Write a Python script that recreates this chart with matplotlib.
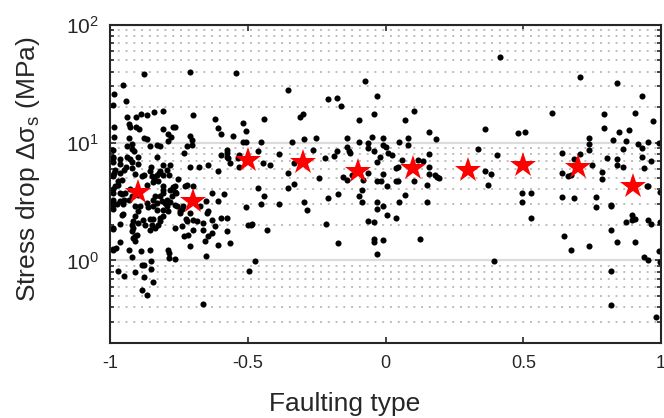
import matplotlib
matplotlib.use("Agg")
import matplotlib.pyplot as plt
from matplotlib.ticker import LogLocator, FixedLocator, FixedFormatter, NullFormatter

plt.rcParams['font.family'] = ['Liberation Sans', 'DejaVu Sans']
plt.rcParams['mathtext.default'] = 'regular'
plt.rcParams['axes.unicode_minus'] = False

# Individual events: faulting type (-1 normal ... 0 strike-slip ... 1 reverse) and stress drop (MPa)
fault_type = [
    -0.876, -0.710, -0.543, -0.953, -0.986, -0.99, -0.942, -0.940, -0.907, -0.886, -0.864, -0.840,
    -0.808, -0.698, -0.619, -0.608, -0.596, -0.552, -0.987, -0.931, -0.927, -0.905, -0.896, -0.808,
    -0.772, -0.764, -0.788, -0.780, -0.788, -0.987, -0.930, -0.876, -0.864, -0.710, -0.703,
    -0.719, -0.731, -0.828, -0.819, -0.919, -0.921, -0.912, -0.99, -0.99, -0.988, -0.964, -0.940,
    -0.927, -0.921, -0.964, -0.942, -0.919, -0.897, -0.951, -0.909, -0.852, -0.830, -0.808, -0.784,
    -0.821, -0.830, -0.840, -0.843, -0.786, -0.752, -0.99, -0.970, -0.957, -0.876, -0.864, -0.808,
    -0.764, -0.728, -0.719, -0.698, -0.710, -0.676, -0.643, -0.609, -0.598, -0.577, -0.577, -0.574,
    -0.573, -0.564, -0.531, -0.534, -0.531, -0.940, -0.855, -0.99, -0.982, -0.964, -0.927, -0.885,
    -0.897, -0.807, -0.794, -0.703,
    -0.819, -0.99, -0.982, -0.970, -0.964, -0.957, -0.946, -0.988, -0.976, -0.954, -0.951, -0.988,
    -0.954, -0.909, -0.897, -0.909, -0.861, -0.843, -0.830, -0.830, -0.819, -0.807, -0.807, -0.813,
    -0.800, -0.794, -0.807, -0.782, -0.776, -0.762, -0.782, -0.808, -0.819, -0.788, -0.764, -0.758,
    -0.746, -0.740, -0.734, -0.855, -0.843, -0.849, -0.855, -0.837, -0.879, -0.873, -0.897, -0.921,
    -0.915, -0.921, -0.909, -0.909, -0.903, -0.99, -0.988, -0.964, -0.964, -0.99, -0.988, -0.978,
    -0.930, -0.920, -0.886, -0.788, -0.786, -0.786, -0.764, -0.764, -0.740, -0.719, -0.698, -0.685,
    -0.716, -0.731, -0.710, -0.664, -0.662, -0.649, -0.643, -0.631, -0.655, -0.643, -0.631, -0.653,
    -0.675, -0.650, -0.631, -0.607, -0.586, -0.597, -0.577, -0.574, -0.564, -0.607, -0.619, -0.726,
    -0.746, -0.99, -0.986, -0.855, -0.849, -0.825, -0.988, -0.921, -0.931, -0.964, -0.99, -0.99,
    -0.794, -0.837, -0.843, -0.770, -0.764, -0.864, -0.897, -0.891, -0.957, -0.915, -0.819, -0.825,
    -0.915, -0.698, -0.710, -0.855,
    -0.970, -0.951, -0.909, -0.885, -0.876, -0.852, -0.852, -0.878, -0.843, -0.885, -0.864, -0.664,
    -0.353, -0.207, -0.175, -0.163, -0.310, -0.298, -0.441, -0.518, -0.508, -0.516, -0.506, -0.452,
    -0.340, -0.296, -0.252, -0.264, -0.141, -0.096, -0.095, -0.065, -0.062, -0.141, -0.131, -0.129,
    -0.175, -0.186, -0.220, -0.385, -0.464, -0.444, -0.419, -0.331, -0.353, -0.241, -0.331, -0.464,
    -0.153, -0.141, -0.123, -0.083, -0.353, -0.441, -0.452, -0.508, -0.385, -0.296, -0.284, -0.207,
    -0.173, -0.095, -0.084, -0.084, -0.062, -0.498, -0.489, -0.483, -0.429, -0.217, -0.173, -0.474,
    -0.496,
    0.416, -0.074, -0.030, -0.041, 0.103, 0.071, 0.159, 0.183, 0.361, 0.337, 0.404, -0.050,
    -0.008, 0.083, 0.083, 0.050, -0.041, -0.008, 0.002, 0.010, 0.025, -0.020, -0.030, 0.059,
    0.038, 0.046, 0.159, 0.159, 0.159, 0.137, 0.119, -0.008, -0.062, -0.030, -0.017, 0.004,
    0.038, 0.046, 0.103, 0.150, 0.180, 0.188, 0.194, 0.361, 0.383, 0.371, -0.030, -0.030,
    -0.008, 0.071, 0.049, 0.150, 0.004, -0.041, 0.037, -0.041, -0.041, -0.008, 0.126, -0.030,
    0.394,
    0.706, 0.839, 0.930, 0.605, 0.794, 0.906, 0.972, 0.794, 0.849, 0.884, 0.482, 0.506,
    0.739, 0.739, 0.739, 0.827, 0.873, 0.863, 0.918, 0.930, 0.952, 0.994, 0.640, 0.706,
    0.684, 0.805, 0.839, 0.839, 0.863, 0.930, 0.963, 0.939, 0.748, 0.640, 0.661, 0.672,
    0.785, 0.785, 0.948, 0.954, 0.494, 0.528, 0.494, 0.640, 0.684, 0.763, 0.763, 0.817,
    0.817, 0.995, 0.528, 0.873, 0.896, 0.896, 0.906, 0.952, 0.963, 0.996, 0.817, 0.649,
    0.672, 0.739, 0.839, 0.906, 0.994, 0.939, 0.952, 0.996, 0.817, 0.817, 0.982,
]
stress_drop = [
    38, 40, 39, 31, 26, 21, 22.4, 16.5, 16.4, 17.5, 17, 18,
    18.4, 17.2, 15.9, 13.3, 11.8, 11.3, 13.5, 14.4, 13.6, 13.6, 13.1, 13,
    13.6, 13.6, 11.8, 11.1, 10.4, 11.1, 10.9, 11, 10.7, 11.3, 10.5,
    9.3, 8.1, 9.5, 9.3, 9.7, 8.8, 8.5, 8.7, 7.5, 7.4, 7.2, 7.6,
    7.2, 6.9, 6.6, 6.25, 6.1, 6.6, 5.8, 5.4, 6.25, 7.6, 6.5, 6.45,
    5.55, 5.3, 4.9, 4.6, 5.3, 4.95, 5.3, 4.7, 4.8, 5.3, 4.4, 4.25,
    4.25, 4.3, 4.4, 4.3, 6.2, 6.2, 6.5, 5.75, 7.85, 8.7, 8.2, 7.6,
    7.4, 6.7, 7.85, 7.4, 6.25, 9.3, 9.3, 6.8, 5.9, 5.5, 4.0, 5.15,
    7.6, 5.3, 5.9, 9.6,
    5.75, 4.0, 4.25, 4.4, 3.7, 3.65, 3.7, 3.06, 3.0, 3.0, 3.27, 2.73,
    2.47, 2.39, 2.6, 2.87, 2.83, 3.27, 3.06, 2.69, 3.49, 3.97, 3.72, 3.16,
    3.06, 2.87, 2.69, 3.92, 3.54, 3.72, 3.14, 2.36, 2.14, 2.6, 2.96, 2.9,
    2.6, 2.73, 2.9, 2.24, 2.24, 2.0, 1.82, 1.88, 2.21, 2.0, 2.07, 2.0,
    1.88, 1.76, 1.62, 1.45, 1.65, 1.88, 1.85, 2.03, 1.42, 1.23, 1.25, 1.27,
    1.23, 1.07, 1.21, 1.23, 1.16, 1.05, 1.03, 1.88, 1.97, 2.14, 1.82, 2.14,
    1.65, 1.6, 1.33, 1.82, 2.07, 2.52, 2.6, 2.21, 1.45, 1.6, 1.71, 1.1,
    2.87, 3.16, 3.72, 3.16, 3.68, 2.29, 2.29, 1.76, 1.4, 1.34, 1.97, 2.24,
    2.52, 5.15, 5.5, 5.7, 5.15, 4.67, 3.72, 3.54, 3.27, 3.16, 2.96, 3.27,
    3.27, 3.54, 2.87, 4.17, 3.84, 3.06, 3.6, 2.87, 2.44, 2.14, 2.29, 2.0,
    1.56, 2.21, 2.52, 1.23,
    0.81, 0.74, 0.79, 0.92, 0.92, 0.98, 0.85, 0.72, 0.65, 0.56, 0.51, 0.43,
    28, 23.5, 24, 20.5, 16.4, 17.4, 15.8, 14.6, 12.6, 10.1, 10.1, 10.2,
    10.2, 10.7, 11, 8.7, 10.9, 15.6, 10.1, 9.9, 9.0, 9.1, 8.5, 8.1,
    8.4, 7.7, 7.4, 8.0, 8.5, 6.75, 6.45, 6.7, 5.5, 5.0, 4.47, 4.15,
    5.1, 4.83, 5.3, 4.83, 4.08, 3.49, 3.0, 2.83, 3.02, 3.12, 2.69, 3.38,
    3.68, 3.54, 3.97, 3.1, 2.17, 1.98, 2.0, 2.03, 1.8, 2.05, 1.4, 0.98,
    0.82,
    52.7, 33.4, 24.9, 17.4, 18.6, 15.4, 12.4, 10.7, 13, 8.8, 7.8, 11.2,
    11, 10.9, 9.6, 10.1, 8.4, 9.6, 9.1, 8.2, 7.85, 7.6, 6.9, 7.1,
    6.1, 6.25, 8.0, 6.25, 5.4, 7.0, 7.1, 5.4, 5.5, 4.67, 4.76, 4.24,
    4.67, 4.76, 4.76, 4.38, 5.3, 5.1, 5.0, 5.7, 5.43, 4.32, 3.1, 2.73,
    2.87, 3.6, 3.1, 3.1, 2.41, 2.12, 2.29, 1.53, 1.42, 1.5, 1.53, 1.13,
    0.99,
    36.3, 31.8, 24.9, 17.7, 17.4, 17.9, 15.3, 13.2, 12.2, 12.8, 12, 12.2,
    10.9, 9.7, 8.7, 10.6, 10.3, 8.85, 9.75, 8.95, 10.1, 9.9, 8.1, 7.95,
    7.25, 7.4, 7.2, 6.4, 6.2, 7.6, 6.95, 6.1, 6.45, 5.56, 5.15, 5.3,
    5.6, 4.9, 4.24, 4.3, 3.72, 3.72, 3.1, 3.42, 3.38, 3.45, 2.84, 2.96,
    2.87, 3.77, 2.27, 2.12, 2.44, 2.18, 2.24, 2.18, 2.03, 2.1, 1.8, 1.6,
    1.23, 1.33, 1.42, 1.42, 1.19, 1.07, 1.0, 0.96, 0.82, 0.42, 0.33,
]

# Binned medians (bin width 0.2)
bin_centers = [-0.9, -0.7, -0.5, -0.3, -0.1, 0.1, 0.3, 0.5, 0.7, 0.9]
bin_median = [3.84, 3.16, 7.1, 6.8, 5.7, 6.1, 5.85, 6.45, 6.25, 4.3]

xtick_values = [-1, -0.5, 0, 0.5, 1]
xtick_labels = ['-1', '-0.5', '0', '0.5', '1']

fig = plt.figure(figsize=(6.64, 4.18), dpi=100)
ax = fig.add_axes([0.1657, 0.180, 0.8298, 0.761])

ax.plot(fault_type, stress_drop, 'o', color='black', markersize=4.4,
        markeredgewidth=0, zorder=3)
ax.plot(bin_centers, bin_median, '*', color='#ff0000', markersize=19,
        markeredgewidth=0, zorder=4)

ax.set_yscale('log')
ax.set_xlim(-1, 1)
ax.set_ylim(0.2, 100)

ax.xaxis.set_major_locator(FixedLocator(xtick_values))
ax.xaxis.set_major_formatter(FixedFormatter(xtick_labels))
ax.yaxis.set_major_locator(LogLocator(base=10, numticks=10))
ax.yaxis.set_minor_locator(LogLocator(base=10, subs=range(2, 10), numticks=20))
ax.yaxis.set_minor_formatter(NullFormatter())

ax.yaxis.grid(True, which='major', color='#dcdcdc', linewidth=1.6, linestyle='-')
ax.yaxis.grid(True, which='minor', color='#bdbdbd', linewidth=1.4, linestyle=(0, (1, 3)))
ax.set_axisbelow(True)

dark = '#262626'
for sp in ax.spines.values():
    sp.set_color(dark)
    sp.set_linewidth(1.5)
    sp.set_zorder(5)

ax.tick_params(which='both', direction='in', top=True, right=True, color=dark,
               labelcolor=dark, width=1.2)
ax.tick_params(axis='x', which='major', length=4, pad=9, labelsize=13)
ax.tick_params(axis='y', which='major', length=4, pad=8, labelsize=15)
ax.tick_params(axis='y', which='minor', length=2.6)

ax.set_xlabel('Faulting type', fontsize=19, color=dark)
ax.xaxis.set_label_coords(0.4265, -0.155)
ax.set_ylabel('Stress drop Δσ$_{s}$ (MPa)', fontsize=19, color=dark, labelpad=17)
ax.yaxis.label.set_y(0.545)

fig.savefig('out.png', dpi=100)
